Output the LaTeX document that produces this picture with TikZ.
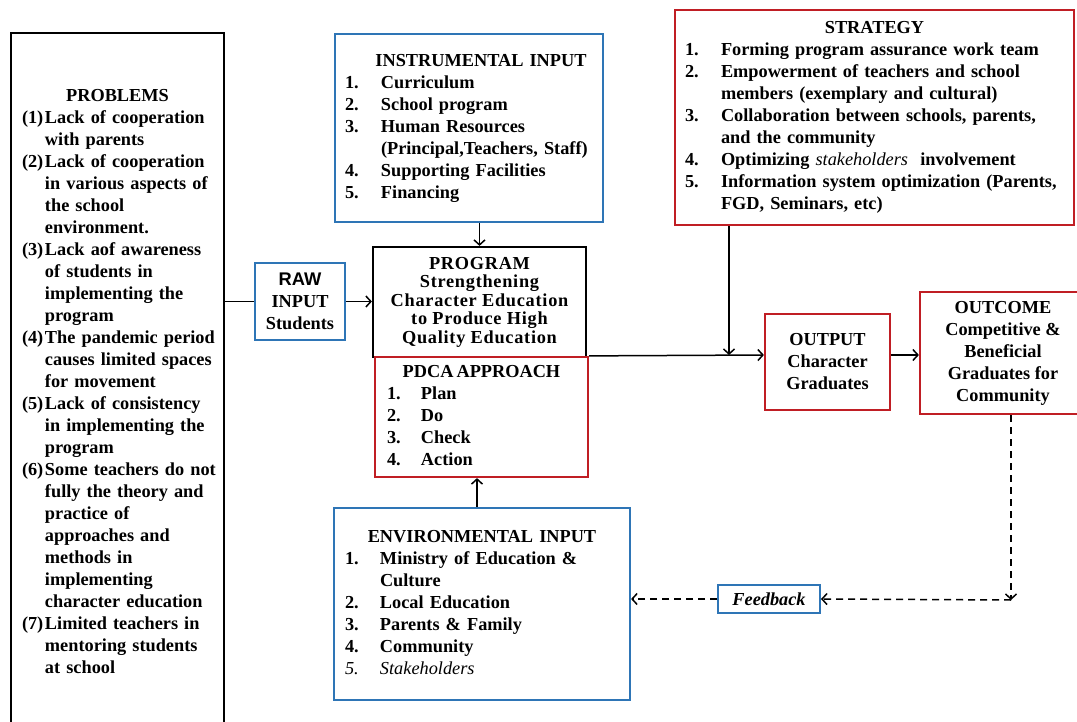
\documentclass[tikz,border=0pt]{standalone}
\usepackage{fontspec}
\setmainfont{Liberation Serif}
\newfontfamily\rawfont{Liberation Sans}
\usetikzlibrary{arrows.meta}

\begin{document}
\begin{tikzpicture}
    [x=1pt, y=-1pt,
    % Styles
    boxframe/.style={draw, line width=2.2pt, inner ysep=0pt,
        font=\fontsize{18.3}{22}\selectfont\bfseries},
    listbox/.style={boxframe, align=left},
    textbox/.style={boxframe, align=center},
    blue frame/.style={draw=inputblue},
    red frame/.style={draw=resultred},
    link/.style={line width=1.5pt, -{Straight Barb[length=5pt,width=11pt]}},
    feedback link/.style={link, dash pattern=on 7pt off 5pt}]

    % Colors
    \definecolor{inputblue}{RGB}{46,117,182}
    \definecolor{resultred}{RGB}{192,30,36}

    \useasboundingbox (0,0) rectangle (1077,722);
    \clip (0,0) rectangle (1077,722);

    % Coordinates
    \coordinate (tap) at (729,355);
    \coordinate (turn) at (1011,600);

    % Boxes
    \node[listbox, minimum width=213, minimum height=700, inner xsep=11pt, text width=191pt]
        (problems) at (117.5,383)
        {\makebox[\linewidth]{\strut PROBLEMS}\\
        \begin{tabular}[t]{@{}p{23pt}@{}l@{}}
        (1) & Lack of cooperation\\
            & with parents\\
        (2) & Lack of cooperation\\
            & in various aspects of\\
            & the school\\
            & environment.\\
        (3) & Lack aof awareness\\
            & of students in\\
            & implementing the\\
            & program\\
        (4) & The pandemic period\\
            & causes limited spaces\\
            & for movement\\
        (5) & Lack of consistency\\
            & in implementing the\\
            & program\\
        (6) & Some teachers do not\\
            & fully the theory and\\
            & practice of\\
            & approaches and\\
            & methods in\\
            & implementing\\
            & character education\\
        (7) & Limited teachers in\\
            & mentoring students\\
            & at school
        \end{tabular}};

    \node[listbox, blue frame, minimum width=268, minimum height=188, inner xsep=10pt, text width=248pt]
        (instrumental) at (469,128)
        {\makebox[\linewidth]{\hspace{24pt}\strut INSTRUMENTAL INPUT}\\
        \begin{tabular}[t]{@{}p{36pt}@{}l@{}}
        1. & Curriculum\\
        2. & School program\\
        3. & Human Resources\\
           & (Principal,Teachers, Staff)\\
        4. & Supporting Facilities\\
        5. & Financing
        \end{tabular}};

    \node[listbox, red frame, minimum width=399, minimum height=215, inner xsep=10pt, text width=379pt]
        (strategy) at (874.5,117.5)
        {\makebox[\linewidth]{\strut STRATEGY}\\
        \begin{tabular}[t]{@{}p{36pt}@{}l@{}}
        1. & Forming program assurance work team\\
        2. & Empowerment of teachers and school\\
           & members (exemplary and cultural)\\
        3. & Collaboration between schools, parents,\\
           & and the community\\
        4. & Optimizing \textit{\mdseries stakeholders}\ \ involvement\\
        5. & Information system optimization (Parents,\\
           & FGD, Seminars, etc)
        \end{tabular}};

    \node[textbox, blue frame, minimum width=90, minimum height=77]
        (raw) at (300,301.5) {{\rawfont RAW}\\INPUT\\Students};

    \node[textbox, minimum width=213, minimum height=110,
        font=\fontsize{18.3}{18.5}\selectfont\bfseries\addfontfeature{LetterSpace=4}]
        (program) at (479.5,302)
        {PROGRAM\\Strengthening\\Character Education\\to Produce High\\Quality Education};

    \node[listbox, red frame, minimum width=213, minimum height=120, inner xsep=12pt, text width=189pt]
        (pdca) at (481.5,417)
        {\makebox[\linewidth]{\strut PDCA\hspace{3pt}APPROACH}\\
        \begin{tabular}[t]{@{}p{34pt}@{}l@{}}
        1. & Plan\\
        2. & Do\\
        3. & Check\\
        4. & Action
        \end{tabular}};

    \node[textbox, red frame, minimum width=125, minimum height=96]
        (output) at (827.5,362) {OUTPUT\\Character\\Graduates};

    \node[textbox, red frame, minimum width=166, minimum height=122]
        (outcome) at (1003,353) {OUTCOME\\Competitive \&\\Beneficial\\Graduates for\\Community};

    \node[listbox, blue frame, minimum width=296, minimum height=192, inner xsep=11pt, text width=274pt]
        (environmental) at (482,604)
        {\makebox[\linewidth]{\strut ENVIRONMENTAL INPUT}\\
        \begin{tabular}[t]{@{}p{35pt}@{}l@{}}
        1. & Ministry of Education \&\\
           & Culture\\
        2. & Local Education\\
        3. & Parents \& Family\\
        4. & Community\\
        \textit{\mdseries 5.} & \textit{\mdseries Stakeholders}
        \end{tabular}};

    \node[textbox, blue frame, line width=2pt, minimum width=102, minimum height=28]
        (feedback) at (769,599) {\textit{Feedback}};

    % Connectors
    \draw[line width=1.5pt] (problems.east |- raw.west) -- (raw.west);
    \draw[link] (raw.east) -- (raw.east -| program.west);
    \draw[link] (program.north |- instrumental.south) -- (program.north);
    \draw[link] ([xshift=-5pt]environmental.north) -- ([xshift=-5pt]environmental.north |- pdca.south);
    \draw[link] (pdca.north east) -- (output.west |- tap);
    \draw[link] (tap |- strategy.south) -- (tap);
    \draw[link] (output.east |- tap) -- (outcome.west |- tap);

    \draw[feedback link] (turn |- outcome.south) -- (turn);
    \draw[feedback link] (turn) -- (feedback.east);
    \draw[feedback link] (feedback.west) -- (feedback.west -| environmental.east);

\end{tikzpicture}
\end{document}
